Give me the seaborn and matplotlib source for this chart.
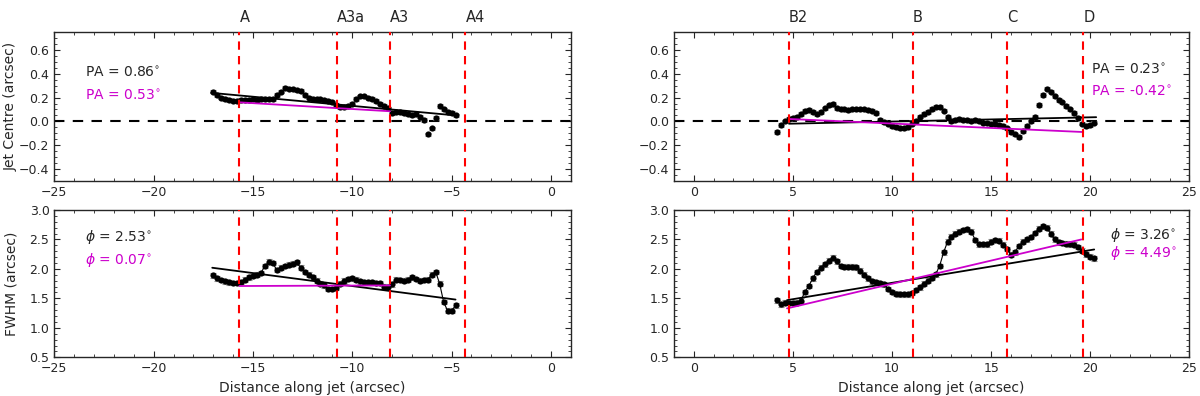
import numpy as np
import pandas as pd
import matplotlib
matplotlib.use("Agg")
import matplotlib.pyplot as plt
import seaborn as sns

# ---- data ----
left_x = [-17.0, -16.8, -16.6, -16.4, -16.2, -16.0, -15.8, -15.6, -15.4, -15.2,
          -15.0, -14.8, -14.6, -14.4, -14.2, -14.0, -13.8, -13.6, -13.4, -13.2,
          -13.0, -12.8, -12.6, -12.4, -12.2, -12.0, -11.8, -11.6, -11.4, -11.2,
          -11.0, -10.8, -10.6, -10.4, -10.2, -10.0, -9.8, -9.6, -9.4, -9.2,
          -9.0, -8.8, -8.6, -8.4, -8.2, -8.0, -7.8, -7.6, -7.4, -7.2,
          -7.0, -6.8, -6.6, -6.4, -6.2, -6.0, -5.8, -5.6, -5.4, -5.2,
          -5.0, -4.8]
left_centre = [0.25, 0.22, 0.20, 0.19, 0.18, 0.175, 0.17, 0.18, 0.18, 0.18,
               0.185, 0.18, 0.185, 0.19, 0.19, 0.19, 0.22, 0.25, 0.28, 0.275,
               0.27, 0.26, 0.255, 0.22, 0.20, 0.19, 0.19, 0.185, 0.18, 0.17,
               0.16, 0.14, 0.12, 0.12, 0.13, 0.15, 0.19, 0.21, 0.21, 0.20,
               0.19, 0.17, 0.15, 0.13, 0.11, 0.07, 0.08, 0.08, 0.07, 0.06,
               0.05, 0.06, 0.04, 0.01, -0.11, -0.06, 0.03, 0.13, 0.10, 0.08,
               0.07, 0.05]
left_fwhm = [1.89, 1.84, 1.81, 1.79, 1.77, 1.76, 1.76, 1.78, 1.82, 1.86,
             1.88, 1.90, 1.93, 2.05, 2.12, 2.10, 1.98, 2.02, 2.05, 2.07,
             2.09, 2.11, 2.02, 1.95, 1.90, 1.86, 1.80, 1.75, 1.72, 1.66,
             1.66, 1.68, 1.75, 1.80, 1.83, 1.84, 1.82, 1.79, 1.77, 1.77,
             1.77, 1.76, 1.76, 1.70, 1.69, 1.74, 1.82, 1.81, 1.80, 1.82,
             1.86, 1.83, 1.80, 1.81, 1.82, 1.90, 1.95, 1.75, 1.44, 1.29,
             1.29, 1.38]

right_x = [4.2, 4.4, 4.6, 4.8, 5.0, 5.2, 5.4, 5.6, 5.8, 6.0,
           6.2, 6.4, 6.6, 6.8, 7.0, 7.2, 7.4, 7.6, 7.8, 8.0,
           8.2, 8.4, 8.6, 8.8, 9.0, 9.2, 9.4, 9.6, 9.8, 10.0,
           10.2, 10.4, 10.6, 10.8, 11.0, 11.2, 11.4, 11.6, 11.8, 12.0,
           12.2, 12.4, 12.6, 12.8, 13.0, 13.2, 13.4, 13.6, 13.8, 14.0,
           14.2, 14.4, 14.6, 14.8, 15.0, 15.2, 15.4, 15.6, 15.8, 16.0,
           16.2, 16.4, 16.6, 16.8, 17.0, 17.2, 17.4, 17.6, 17.8, 18.0,
           18.2, 18.4, 18.6, 18.8, 19.0, 19.2, 19.4, 19.6, 19.8, 20.0,
           20.2]
right_centre = [-0.09, -0.03, 0.00, 0.02, 0.03, 0.04, 0.06, 0.085, 0.095, 0.08,
                0.06, 0.08, 0.11, 0.135, 0.145, 0.11, 0.10, 0.10, 0.095, 0.10,
                0.10, 0.10, 0.10, 0.095, 0.09, 0.07, 0.01, -0.005, -0.02, -0.04,
                -0.05, -0.06, -0.06, -0.05, -0.02, 0.005, 0.04, 0.06, 0.08, 0.105,
                0.12, 0.125, 0.09, 0.04, 0.00, 0.01, 0.02, 0.01, 0.01, 0.005,
                0.01, 0.0, -0.01, -0.01, -0.02, -0.02, -0.03, -0.04, -0.06, -0.09,
                -0.11, -0.13, -0.08, -0.04, 0.0, 0.035, 0.14, 0.22, 0.275, 0.25,
                0.21, 0.18, 0.16, 0.13, 0.10, 0.07, 0.03, -0.02, -0.04, -0.03,
                -0.01]
right_fwhm = [1.47, 1.40, 1.43, 1.42, 1.42, 1.43, 1.46, 1.61, 1.71, 1.84,
              1.95, 2.02, 2.08, 2.14, 2.19, 2.13, 2.05, 2.04, 2.04, 2.04,
              2.03, 1.97, 1.90, 1.84, 1.79, 1.77, 1.76, 1.74, 1.66, 1.61,
              1.58, 1.57, 1.57, 1.57, 1.59, 1.64, 1.69, 1.75, 1.80, 1.85,
              1.91, 2.05, 2.28, 2.46, 2.55, 2.60, 2.63, 2.66, 2.67, 2.63,
              2.49, 2.42, 2.42, 2.42, 2.46, 2.49, 2.48, 2.41, 2.34, 2.24,
              2.28, 2.39, 2.46, 2.50, 2.54, 2.61, 2.68, 2.72, 2.70, 2.60,
              2.50, 2.45, 2.44, 2.43, 2.42, 2.41, 2.37, 2.31, 2.25, 2.21,
              2.18]

centre_err = 0.015
fwhm_err = 0.04

# fitted lines (end points)
left_centre_fit_all = ([-17.1, -4.8], [0.24, 0.05])
left_centre_fit_sub = ([-15.68, -8.1], [0.16, 0.085])
left_fwhm_fit_all = ([-17.05, -4.8], [2.02, 1.48])
left_fwhm_fit_sub = ([-15.68, -8.1], [1.71, 1.72])
right_centre_fit_all = ([4.8, 20.3], [-0.02, 0.035])
right_centre_fit_sub = ([4.8, 19.65], [0.02, -0.09])
right_fwhm_fit_all = ([4.7, 20.2], [1.47, 2.33])
right_fwhm_fit_sub = ([4.7, 19.55], [1.33, 2.50])

left_knots = [-15.68, -10.78, -8.1, -4.3]
left_knot_names = ["A", "A3a", "A3", "A4"]
right_knots = [4.8, 11.06, 15.79, 19.65]
right_knot_names = ["B2", "B", "C", "D"]

sns.set_style("ticks")
plt.rcParams["font.family"] = ["DejaVu Sans"]
plt.rcParams.update({
    "xtick.direction": "in", "ytick.direction": "in",
    "xtick.top": True, "ytick.right": True,
    "xtick.minor.visible": True, "ytick.minor.visible": True,
    "xtick.major.size": 4, "ytick.major.size": 4,
    "xtick.minor.size": 2, "ytick.minor.size": 2,
    "xtick.labelsize": 9, "ytick.labelsize": 9,
    "axes.linewidth": 1.0,
})

fig = plt.figure(figsize=(12, 3.96), dpi=100)
ax_tl = fig.add_axes([0.0453, 0.5437, 0.4303, 0.3747])
ax_bl = fig.add_axes([0.0453, 0.0977, 0.4303, 0.372])
ax_tr = fig.add_axes([0.5617, 0.5437, 0.4294, 0.3747])
ax_br = fig.add_axes([0.5617, 0.0977, 0.4294, 0.372])

MAG = "#cc00cc"


def draw_panel(ax, x, y, err, fit_all, fit_sub, knots, connect):
    df = pd.DataFrame({"x": x, "y": y})
    ax.errorbar(df["x"], df["y"], yerr=err, fmt="none", ecolor="0.55",
                elinewidth=0.8, capsize=2, capthick=0.8, zorder=2)
    if connect:
        sns.lineplot(data=df, x="x", y="y", ax=ax, color="black", lw=0.8,
                     sort=False, zorder=2)
    sns.scatterplot(data=df, x="x", y="y", ax=ax, color="black", s=20,
                    edgecolor="black", linewidth=0, zorder=3)
    ax.plot(fit_all[0], fit_all[1], color="black", lw=1.3, zorder=4)
    ax.plot(fit_sub[0], fit_sub[1], color=MAG, lw=1.3, zorder=4)
    for k in knots:
        ax.axvline(k, color="red", lw=1.5, ls=(0, (4, 3)), zorder=5)
    ax.set_xlabel("")
    ax.set_ylabel("")


draw_panel(ax_tl, left_x, left_centre, centre_err, left_centre_fit_all,
           left_centre_fit_sub, left_knots, False)
draw_panel(ax_bl, left_x, left_fwhm, fwhm_err, left_fwhm_fit_all,
           left_fwhm_fit_sub, left_knots, True)
draw_panel(ax_tr, right_x, right_centre, centre_err, right_centre_fit_all,
           right_centre_fit_sub, right_knots, False)
draw_panel(ax_br, right_x, right_fwhm, fwhm_err, right_fwhm_fit_all,
           right_fwhm_fit_sub, right_knots, True)

for ax in (ax_tl, ax_tr):
    ax.axhline(0, color="black", lw=1.5, ls=(0, (5, 4)), zorder=1)
    ax.set_ylim(-0.5, 0.75)
    ax.set_yticks([-0.4, -0.2, 0.0, 0.2, 0.4, 0.6])
    ax.set_yticks(np.arange(-0.5, 0.76, 0.05), minor=True)
for ax in (ax_bl, ax_br):
    ax.set_ylim(0.5, 3.0)
    ax.set_yticks([0.5, 1.0, 1.5, 2.0, 2.5, 3.0])
    ax.set_yticks(np.arange(0.5, 3.01, 0.1), minor=True)
    ax.set_xlabel("Distance along jet (arcsec)", fontsize=10)
for ax in (ax_tl, ax_bl):
    ax.set_xlim(-25, 1)
    ax.set_xticks([-25, -20, -15, -10, -5, 0])
    ax.set_xticks(np.arange(-25, 1.01, 1), minor=True)
for ax in (ax_tr, ax_br):
    ax.set_xlim(-1, 25)
    ax.set_xticks([0, 5, 10, 15, 20, 25])
    ax.set_xticks(np.arange(-1, 25.01, 1), minor=True)

ax_tl.set_ylabel("Jet Centre (arcsec)", fontsize=10, labelpad=1)
ax_bl.set_ylabel("FWHM (arcsec)", fontsize=10, labelpad=8)

for k, name in zip(left_knots, left_knot_names):
    ax_tl.text(k, 1.05, name, transform=ax_tl.get_xaxis_transform(),
               ha="left", va="bottom", fontsize=10.5)
for k, name in zip(right_knots, right_knot_names):
    ax_tr.text(k, 1.05, name, transform=ax_tr.get_xaxis_transform(),
               ha="left", va="bottom", fontsize=10.5)

ax_tl.text(0.06, 0.73, "PA = 0.86$^{\\circ}$", transform=ax_tl.transAxes,
           fontsize=10, va="center")
ax_tl.text(0.06, 0.57, "PA = 0.53$^{\\circ}$", transform=ax_tl.transAxes,
           fontsize=10, va="center", color=MAG)
ax_tr.text(0.81, 0.745, "PA = 0.23$^{\\circ}$", transform=ax_tr.transAxes,
           fontsize=10, va="center")
ax_tr.text(0.81, 0.60, "PA = -0.42$^{\\circ}$", transform=ax_tr.transAxes,
           fontsize=10, va="center", color=MAG)
ax_bl.text(0.06, 0.82, "$\\phi$ = 2.53$^{\\circ}$", transform=ax_bl.transAxes,
           fontsize=10, va="center")
ax_bl.text(0.06, 0.66, "$\\phi$ = 0.07$^{\\circ}$", transform=ax_bl.transAxes,
           fontsize=10, va="center", color=MAG)
ax_br.text(0.846, 0.83, "$\\phi$ = 3.26$^{\\circ}$", transform=ax_br.transAxes,
           fontsize=10, va="center")
ax_br.text(0.846, 0.71, "$\\phi$ = 4.49$^{\\circ}$", transform=ax_br.transAxes,
           fontsize=10, va="center", color=MAG)

fig.savefig("out.png", dpi=100)
